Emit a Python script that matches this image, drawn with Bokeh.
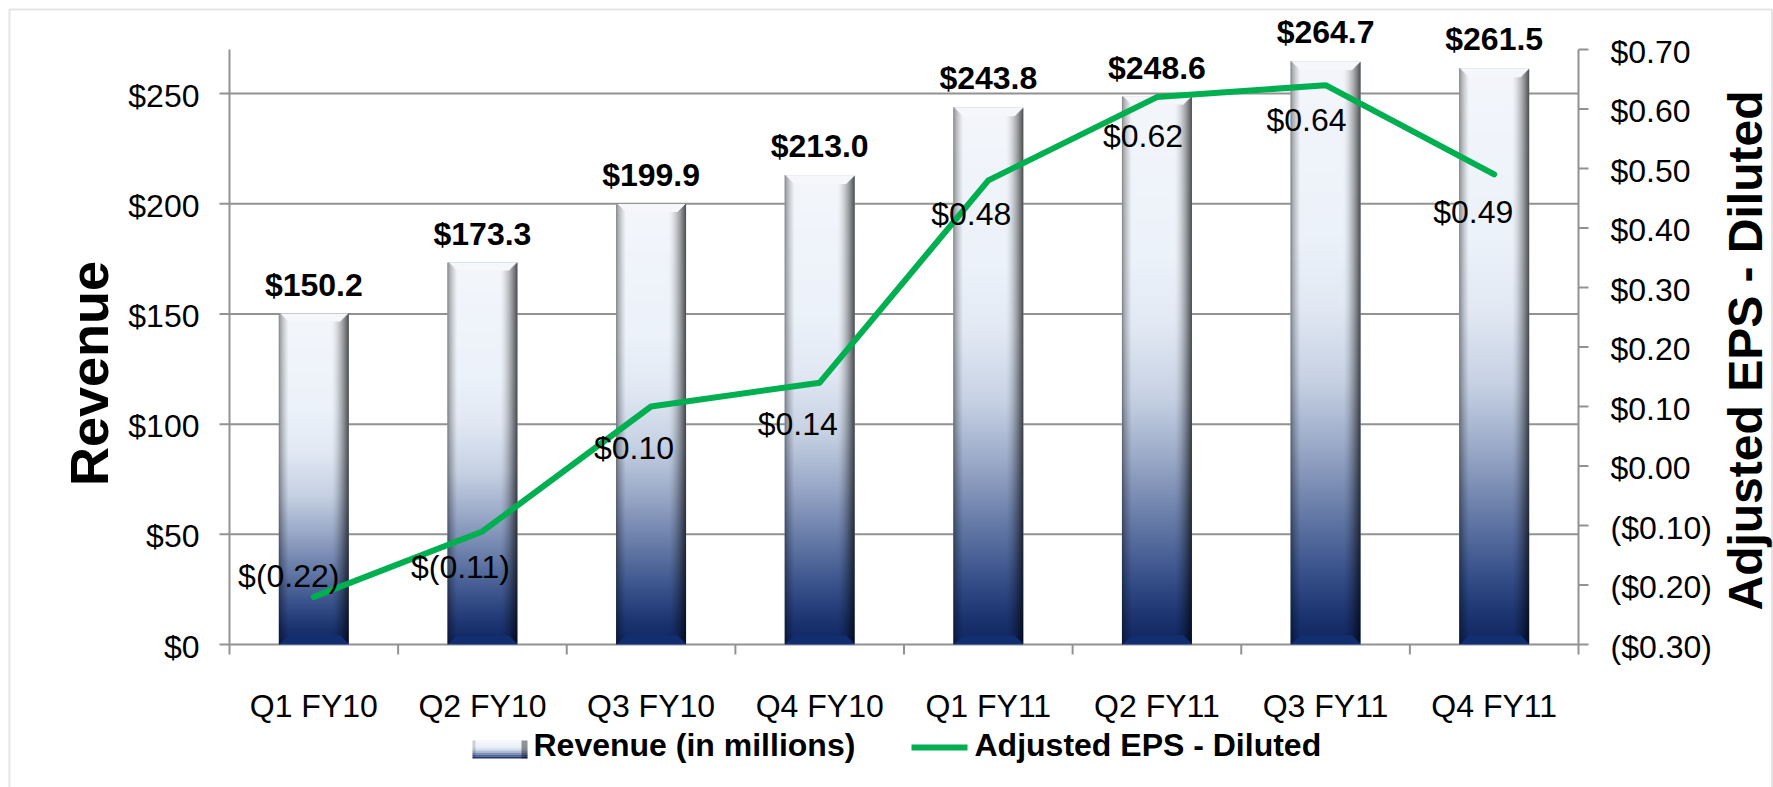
import numpy as np
from bokeh.plotting import figure
from bokeh.models import (Range1d, LabelSet, ColumnDataSource, BoxAnnotation)
from bokeh.core.properties import value
from bokeh.embed import file_html
from bokeh.resources import INLINE

# ---------------- data ----------------
categories = ["Q1 FY10", "Q2 FY10", "Q3 FY10", "Q4 FY10",
              "Q1 FY11", "Q2 FY11", "Q3 FY11", "Q4 FY11"]
revenue = [150.2, 173.3, 199.9, 213.0, 243.8, 248.6, 264.7, 261.5]
eps = [-0.22, -0.11, 0.10, 0.14, 0.48, 0.62, 0.64, 0.49]

revenue_ticks = [0, 50, 100, 150, 200, 250]
revenue_tick_labels = ["$0", "$50", "$100", "$150", "$200", "$250"]
eps_ticks = [-0.3, -0.2, -0.1, 0.0, 0.1, 0.2, 0.3, 0.4, 0.5, 0.6, 0.7]
eps_tick_labels = ["($0.30)", "($0.20)", "($0.10)", "$0.00", "$0.10", "$0.20",
                   "$0.30", "$0.40", "$0.50", "$0.60", "$0.70"]

revenue_series_name = "Revenue (in millions)"
eps_series_name = "Adjusted EPS - Diluted"
left_title = "Revenue"
right_title = "Adjusted EPS - Diluted"

# ---------------- style / layout ----------------
W, H = 1773, 787                    # canvas (page pixels)
ML, MR, MT, MB = 229, 195, 49, 143  # distances from canvas edges to the plot area
FRAME_W = W - ML - MR
FRAME_H = H - MT - MB
REV_MAX = 270
EPS_MIN, EPS_MAX = -0.3, 0.7
N = len(categories)
BAR_W = 0.415
FONT = "Liberation Sans"
GRID = "#929292"
GREEN = "#00B050"
FS = "32px"
TICK = 10

# per-label offsets (pixels) of the EPS data labels, relative to their points
EPS_DX = [-25, -22, -17, -22, -17, -14, -19, -21]
EPS_DY = [10, -47, -52, -52, -45, -50, -46, -49]

PX_X = FRAME_W / N
PX_Y = FRAME_H / REV_MAX
PX_E = FRAME_H / (EPS_MAX - EPS_MIN)


def sx(px):  # page x -> screen units
    return px


def sy(py):  # page y -> screen units (from canvas bottom, upward)
    return H - py


STOPS_T = [0.0, 0.30, 0.42, 0.55, 0.66, 0.78, 0.88, 0.95, 1.0]
STOPS_RGB = [(244, 246, 250), (236, 242, 250), (226, 233, 244), (198, 209, 227),
             (155, 170, 200), (100, 121, 166), (55, 80, 138), (28, 52, 112),
             (16, 38, 96)]


def gradient(t):
    rgb = np.array(STOPS_RGB, float)
    return np.stack([np.interp(t, STOPS_T, rgb[:, k]) for k in range(3)], axis=-1)


def bar_texture(h, w):
    t = (np.arange(h) + 0.5) / h
    base = gradient(t)
    j = np.arange(w)
    f = np.ones(w)
    lw = max(1, int(round(w * 0.13)))
    left = j < lw
    f[left] = 0.58 + 0.42 * (j[left] / lw) ** 0.7
    rs = int(round(w * 0.74))
    right = j >= rs
    f[right] = 1 - 0.72 * ((j[right] - rs + 1) / (w - rs)) ** 1.6
    img = base[:, None, :] * f[None, :, None]
    b = 9
    i = np.arange(h)[:, None]
    dl = j[None, :]
    dr = (w - 1 - j)[None, :]
    top = (i < b) & (i < dl) & (i < dr)
    img[top] = np.array([246, 247, 250], float)
    db = h - 1 - i
    bot = (db < b) & (db < dl) & (db < dr)
    img[bot] = np.clip(base[-1] * 1.18, 0, 255)
    img = img[::-1]
    rgba = np.zeros((h, w, 4), dtype=np.uint8)
    rgba[..., :3] = np.clip(img, 0, 255).astype(np.uint8)
    rgba[..., 3] = 255
    return rgba.view(np.uint32).reshape(h, w)


# ---------------- figure ----------------
centers = [i + 0.5 for i in range(N)]
bounds = list(range(N + 1))

p = figure(width=W, height=H,
           x_range=Range1d(-ML / PX_X, N + MR / PX_X),
           y_range=Range1d(-MB / PX_Y, REV_MAX + MT / PX_Y),
           output_backend="svg", toolbar_location=None, tools="",
           x_axis_location=None, y_axis_location=None, min_border=0)
p.extra_y_ranges = {"eps": Range1d(EPS_MIN - MB / PX_E, EPS_MAX + MT / PX_E)}
p.outline_line_color = None
p.background_fill_color = "white"
p.border_fill_color = "white"
p.grid.visible = False

# gridlines
g = revenue_ticks[1:]
p.segment(x0=[0] * len(g), y0=g, x1=[N] * len(g), y1=g, line_color=GRID, line_width=2)

# axis lines
p.segment(x0=[0, 0], y0=[0, 0], x1=[0, N], y1=[REV_MAX, 0], line_color=GRID, line_width=2)
p.segment(x0=[N], y0=[EPS_MIN], x1=[N], y1=[EPS_MAX], y_range_name="eps",
          line_color=GRID, line_width=2)
# ticks
p.segment(x0=[-TICK / PX_X] * len(revenue_ticks), y0=revenue_ticks,
          x1=[0] * len(revenue_ticks), y1=revenue_ticks, line_color=GRID, line_width=2)
p.segment(x0=[N] * len(eps_ticks), y0=eps_ticks, x1=[N + TICK / PX_X] * len(eps_ticks),
          y1=eps_ticks, y_range_name="eps", line_color=GRID, line_width=2)
p.segment(x0=bounds, y0=[0] * len(bounds), x1=bounds, y1=[-TICK / PX_Y] * len(bounds),
          line_color=GRID, line_width=2)

# bars: solid base + shaded texture
bar_src = ColumnDataSource(dict(x=centers, top=revenue))
p.vbar(x="x", top="top", width=BAR_W, bottom=0, source=bar_src,
       fill_color="#9aa9c6", line_color=None)
tex_w = int(round(BAR_W * PX_X))
textures = [bar_texture(int(round(v * PX_Y)), tex_w) for v in revenue]
p.image_rgba(image=textures, x=[c - BAR_W / 2 for c in centers],
             y=[0] * N, dw=[BAR_W] * N, dh=revenue)

# EPS line
p.line(x=centers, y=eps, y_range_name="eps", line_color=GREEN, line_width=6,
       line_join="round", line_cap="round")


def labelset(src, **kw):
    kw.setdefault("text_font_size", FS)
    return LabelSet(x="x", y="y", text="t", source=src, text_font=value(FONT),
                    text_color="black", **kw)


# tick labels
p.add_layout(labelset(ColumnDataSource(dict(x=[0] * len(revenue_ticks), y=revenue_ticks,
                                            t=revenue_tick_labels)),
                      x_offset=-30, y_offset=-2, text_align="right",
                      text_baseline="middle"))
p.add_layout(labelset(ColumnDataSource(dict(x=[N] * len(eps_ticks), y=eps_ticks,
                                            t=eps_tick_labels)),
                      y_range_name="eps", x_offset=32, y_offset=-2,
                      text_align="left", text_baseline="middle"))
p.add_layout(labelset(ColumnDataSource(dict(x=centers, y=[0] * N, t=categories)),
                      y_offset=-72, text_align="center", text_baseline="alphabetic"))

# data labels
p.add_layout(labelset(ColumnDataSource(dict(x=centers, y=revenue,
                                            t=[f"${v:.1f}" for v in revenue])),
                      y_offset=18, text_align="center", text_baseline="alphabetic",
                      text_font_style="bold"))
p.add_layout(labelset(ColumnDataSource(dict(
    x=centers, y=eps,
    t=[f"$({abs(v):.2f})" if v < 0 else f"${v:.2f}" for v in eps],
    dx=EPS_DX, dy=EPS_DY)),
    y_range_name="eps", x_offset="dx", y_offset="dy",
    text_align="center", text_baseline="alphabetic"))


def screen_text(text, x, y, size, angle=0.0, align="left"):
    src = ColumnDataSource(dict(x=[x], y=[y], t=[text]))
    return labelset(src, x_units="screen", y_units="screen",
                    text_font_size=f"{size}px", text_font_style="bold",
                    angle=angle, text_align=align, text_baseline="alphabetic")


# axis titles
p.add_layout(screen_text(left_title, sx(107), sy(373), 54, angle=np.pi / 2,
                         align="center"))
p.add_layout(screen_text(right_title, sx(1761), sy(350), 48, angle=np.pi / 2,
                         align="center"))


def box(l, r, t, b, color, alpha=1.0):
    return BoxAnnotation(left=l, right=r, top=t, bottom=b,
                         left_units="screen", right_units="screen",
                         top_units="screen", bottom_units="screen",
                         fill_color=color, fill_alpha=alpha, line_color=None,
                         level="overlay")


# legend: gradient swatch
n_rows = 9
row_h = (758 - 740) / n_rows
cols = gradient((np.arange(n_rows) + 0.5) / n_rows)
for k in range(n_rows):
    top_py = 740 + k * row_h
    c = "#%02x%02x%02x" % tuple(int(v) for v in cols[k])
    p.add_layout(box(sx(472), sx(527), sy(top_py), sy(top_py + row_h), c))
p.add_layout(box(sx(521), sx(527), sy(740), sy(758), "black", 0.4))
p.add_layout(box(sx(472), sx(475), sy(740), sy(758), "black", 0.15))
p.add_layout(screen_text(revenue_series_name, sx(533), sy(755), 32))
# legend: line swatch
p.add_layout(box(sx(911), sx(967), sy(744), sy(750), GREEN))
p.add_layout(screen_text(eps_series_name, sx(974), sy(755), 32))

# chart-area border
p.add_layout(BoxAnnotation(left=sx(9), right=sx(1771.5), top=sy(9), bottom=-10,
                           left_units="screen", right_units="screen",
                           top_units="screen", bottom_units="screen",
                           fill_color=None, line_color="#a6a6a6", line_width=2,
                           level="overlay"))

open("out.html", "w").write(file_html(p, INLINE))
